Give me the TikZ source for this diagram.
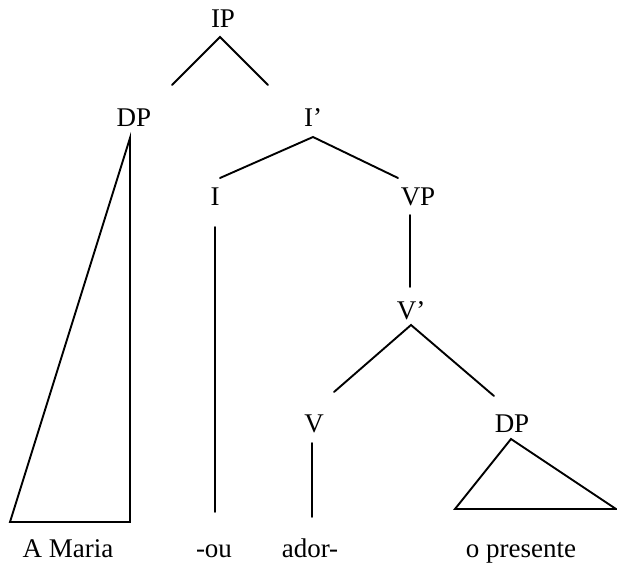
\documentclass[tikz,border=0pt]{standalone}
\usepackage{fontspec}
\setmainfont{Liberation Serif}
\begin{document}
\begin{tikzpicture}[x=1pt,y=-1pt,
  lbl/.style={anchor=base,inner sep=0pt,font=\fontsize{27}{31}\selectfont},
  br/.style={line width=1.9pt,line cap=round}]
\useasboundingbox (0,0) rectangle (617,569);
% labels
\node[lbl] (IP) at (223,28) {IP};
\node[lbl] (DP1) at (134,127) {DP};
\node[lbl] (Ib) at (313,127) {I’};
\node[lbl] (I) at (215,205) {I};
\node[lbl] (VP) at (418,205) {VP};
\node[lbl] (Vb) at (411,319) {V’};
\node[lbl] (V) at (314,432) {V};
\node[lbl] (DP2) at (512,432) {DP};
\node[lbl] (w1) at (68,557) {A Maria};
\node[lbl] (w2) at (214,557) {-ou};
\node[lbl] (w3) at (310,557) {ador-};
\node[lbl] (w4) at (521,557) {o presente};
% branch points
\coordinate (ipA) at (220,37);
\coordinate (ipL) at (172,85);
\coordinate (ipR) at (268,85);
\coordinate (ibA) at (313,137);
\coordinate (ibL) at (220,178);
\coordinate (ibR) at (398,178);
\coordinate (iT) at (215,227);
\coordinate (iB) at (215,512);
\coordinate (vpT) at (410,215);
\coordinate (vpB) at (410,287);
\coordinate (vbA) at (411,325);
\coordinate (vbL) at (334,392);
\coordinate (vbR) at (494,396);
\coordinate (vT) at (312,443);
\coordinate (vB) at (312,517);
\coordinate (d1T) at (130,138);
\coordinate (d1L) at (10,522);
\coordinate (d1R) at (130,522);
\coordinate (d2T) at (511,439);
\coordinate (d2L) at (455,509);
\coordinate (d2R) at (616,509);
% branches
\draw[br] (ipL) -- (ipA) -- (ipR);
\draw[br] (ibL) -- (ibA) -- (ibR);
\draw[br] (iT) -- (iB);
\draw[br] (vpT) -- (vpB);
\draw[br] (vbL) -- (vbA) -- (vbR);
\draw[br] (vT) -- (vB);
\draw[br,line join=miter] (d1T) -- (d1L) -- (d1R) -- cycle;
\draw[br,line join=miter] (d2T) -- (d2L) -- (d2R) -- cycle;
\end{tikzpicture}
\end{document}
